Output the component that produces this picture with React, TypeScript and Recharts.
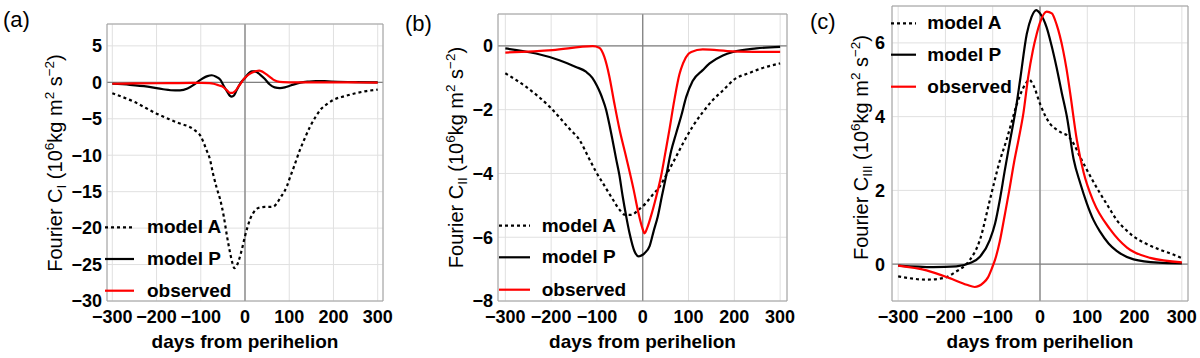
import React from "react";
import { LineChart, Line, XAxis, YAxis, CartesianGrid, ReferenceLine } from "recharts";

const FONT = '"Liberation Sans", Arial, Helvetica, sans-serif';

// ---------- shared ----------
const xTickValues = [-300, -200, -100, 0, 100, 200, 300];
const seriesNames = ["model A", "model P", "observed"];

// ---------- panel (a): Fourier C_I ----------
const aYTicks = [-30, -25, -20, -15, -10, -5, 0, 5];
const aModelADays = [-300, -250, -200, -154, -113, -100, -94, -87, -80, -72, -64, -56, -48, -41, -34, -28, -24, -20, -15, -10, -5, 0, 6, 12, 20, 28, 36, 45, 55, 64, 72, 80, 88, 95, 102, 110, 124, 135, 147, 160, 170, 185, 200, 225, 250, 275, 300];
const aModelAVals = [-1.5, -2.7, -4.3, -5.5, -6.6, -7.4, -8.2, -9.3, -10.4, -12.6, -14.5, -16.1, -18.4, -21.0, -23.3, -24.9, -25.5, -25.3, -24.6, -23.6, -22.4, -21.1, -19.8, -18.7, -17.8, -17.3, -17.15, -17.1, -17.1, -17.05, -16.6, -15.8, -15.1, -14.2, -13.0, -11.7, -9.3, -7.7, -6.1, -4.7, -3.8, -3.0, -2.4, -1.9, -1.5, -1.2, -1.0];
const aModelPDays = [-300, -260, -220, -185, -158, -147, -130, -115, -105, -95, -85, -75, -65, -56, -48, -40, -34, -30, -25, -19, -10, 0, 8, 15, 22, 28, 34, 45, 56, 67, 79, 90, 100, 109, 125, 143, 160, 180, 210, 250, 300];
const aModelPVals = [-0.2, -0.35, -0.6, -0.95, -1.1, -1.1, -0.85, -0.3, 0.15, 0.55, 0.85, 0.97, 0.75, 0.37, -0.5, -1.3, -1.85, -1.95, -1.8, -1.1, -0.1, 0.6, 1.2, 1.5, 1.5, 1.35, 1.06, 0.45, -0.3, -0.7, -0.8, -0.7, -0.5, -0.32, -0.05, 0.1, 0.18, 0.15, 0.08, 0.02, 0];
const aObsDays = [-300, -250, -200, -150, -100, -80, -71, -60, -49, -40, -34, -28, -22, -15, -8, -4, 5, 15, 26, 32, 38, 46, 56, 64, 72, 86, 100, 150, 200, 250, 300];
const aObsVals = [-0.2, -0.15, -0.13, -0.1, -0.08, -0.12, -0.2, -0.4, -0.65, -1.15, -1.46, -1.45, -1.2, -0.6, 0.0, 0.37, 0.9, 1.3, 1.55, 1.6, 1.5, 1.2, 0.75, 0.37, 0.15, 0.02, 0, 0, 0, -0.02, -0.05];

// ---------- panel (b): Fourier C_II ----------
const bYTicks = [-8, -6, -4, -2, 0];
const bModelADays = [-300, -255, -204, -160, -138, -120, -102, -85, -66, -50, -40, -25, -10, 7, 20, 37, 55, 73, 90, 109, 130, 153, 175, 200, 233, 260, 300];
const bModelAVals = [-0.86, -1.28, -1.9, -2.6, -2.95, -3.45, -3.95, -4.35, -4.8, -5.15, -5.29, -5.3, -5.15, -4.93, -4.7, -4.41, -3.95, -3.47, -3.0, -2.53, -2.1, -1.7, -1.4, -1.05, -0.85, -0.7, -0.55];
const bModelPDays = [-300, -233, -182, -146, -124, -110, -100, -92, -88, -80, -73, -66, -58, -51, -44, -36, -29, -18, -9, 0, 4, 15, 24, 33, 42, 51, 62, 73, 84, 95, 109, 131, 146, 175, 197, 248, 300];
const bModelPVals = [-0.08, -0.24, -0.45, -0.66, -0.81, -1.0, -1.25, -1.5, -1.65, -2.0, -2.45, -2.95, -3.55, -4.05, -4.7, -5.35, -5.86, -6.44, -6.6, -6.55, -6.5, -6.28, -5.8, -5.34, -4.7, -4.09, -3.3, -2.74, -2.2, -1.6, -1.1, -0.76, -0.55, -0.3, -0.19, -0.08, -0.03];
const bObsDays = [-300, -197, -109, -95, -84, -73, -62, -51, -36, -20, -10, 0, 4, 10, 18, 30, 40, 50, 58, 69, 80, 88, 100, 106, 131, 197, 300];
const bObsVals = [-0.21, -0.13, -0.01, -0.06, -0.34, -0.95, -1.8, -2.6, -3.5, -4.5, -5.2, -5.75, -5.88, -5.7, -5.34, -4.7, -4.09, -3.3, -2.65, -1.7, -0.9, -0.55, -0.25, -0.19, -0.11, -0.17, -0.19];

// ---------- panel (c): Fourier C_III ----------
const cYTicks = [0, 2, 4, 6];
const cModelADays = [-300, -240, -205, -177, -160, -148, -127, -106, -85, -70, -60, -50, -40, -30, -23, -14, 0, 10, 21, 35, 49, 57, 71, 85, 92, 110, 127, 145, 162, 180, 198, 225, 254, 280, 300];
const cModelAVals = [-0.33, -0.42, -0.38, -0.2, -0.05, 0.12, 0.66, 1.74, 2.8, 3.4, 3.85, 4.3, 4.65, 4.9, 5.0, 4.85, 4.35, 4.05, 3.81, 3.65, 3.54, 3.5, 3.27, 2.9, 2.73, 2.3, 1.92, 1.55, 1.2, 0.95, 0.75, 0.55, 0.39, 0.27, 0.16];
const cModelPDays = [-300, -226, -177, -148, -127, -106, -95, -85, -75, -64, -50, -42, -28, -18, -8, 0, 14, 24, 35, 46, 57, 71, 85, 99, 113, 127, 145, 162, 198, 250, 300];
const cModelPVals = [-0.04, -0.08, -0.06, 0.03, 0.2, 0.66, 1.1, 1.74, 2.5, 3.3, 4.3, 5.0, 6.24, 6.7, 6.89, 6.8, 6.42, 5.95, 5.34, 4.65, 3.99, 2.85, 2.2, 1.65, 1.2, 0.88, 0.56, 0.36, 0.13, 0.04, 0.02];
const cObsDays = [-300, -240, -191, -155, -138, -120, -110, -102, -95, -85, -75, -65, -55, -45, -35, -25, -15, -7, 0, 14, 25, 35, 49, 56, 64, 78, 92, 113, 148, 184, 233, 300];
const cObsVals = [-0.04, -0.17, -0.38, -0.56, -0.62, -0.51, -0.36, -0.12, 0.12, 0.62, 1.3, 2.0, 2.75, 3.4, 4.1, 5.07, 5.8, 6.24, 6.55, 6.85, 6.8, 6.5, 5.79, 5.3, 4.62, 3.36, 2.5, 1.7, 0.95, 0.45, 0.17, 0.05];

// ---------- helpers ----------
type Pt = { x: number; y: number };
const toPoints = (days: number[], vals: number[]): Pt[] => days.map((x, i) => ({ x, y: vals[i] }));
const range = (a: number, b: number, s: number) => {
  const r: number[] = [];
  for (let v = a; v <= b + 1e-9; v += s) r.push(Math.round(v * 1000) / 1000);
  return r;
};
const fmt = (v: number) => String(v).replace("-", "\u2212");

const seriesStyles = [
  { color: "#000000", dash: "3 3" },
  { color: "#000000", dash: undefined as string | undefined },
  { color: "#ff0000", dash: undefined as string | undefined },
];

type PanelCfg = {
  left: number;
  width: number;
  plot: { l: number; r: number; t: number; b: number };
  xDomain: [number, number];
  yDomain: [number, number];
  yTicks: number[];
  yMinorStep: number;
  series: Pt[][];
  yTickMargin: number;
};

const panels: PanelCfg[] = [
  {
    left: 0, width: 400, plot: { l: 107, r: 383, t: 24, b: 301 },
    xDomain: [-312, 312], yDomain: [-30, 8], yTicks: aYTicks, yMinorStep: 1, yTickMargin: 5,
    series: [toPoints(aModelADays, aModelAVals), toPoints(aModelPDays, aModelPVals), toPoints(aObsDays, aObsVals)],
  },
  {
    left: 390, width: 410, plot: { l: 498, r: 787, t: 14, b: 301 },
    xDomain: [-316, 315], yDomain: [-8, 1], yTicks: bYTicks, yMinorStep: 0.5, yTickMargin: 5,
    series: [toPoints(bModelADays, bModelAVals), toPoints(bModelPDays, bModelPVals), toPoints(bObsDays, bObsVals)],
  },
  {
    left: 800, width: 400, plot: { l: 892, r: 1188, t: 6, b: 301 },
    xDomain: [-313, 313], yDomain: [-1, 7], yTicks: cYTicks, yMinorStep: 0.5, yTickMargin: 7,
    series: [toPoints(cModelADays, cModelAVals), toPoints(cModelPDays, cModelPVals), toPoints(cObsDays, cObsVals)],
  },
];

const FRAME = "#a0a0a0";
const tickStyle = { fill: "#000", fontSize: 18, fontWeight: 700, fontFamily: FONT };
const noTick = () => <g />;

function Panel({ cfg }: { cfg: PanelCfg }) {
  const { left, width, plot, xDomain, yDomain } = cfg;
  const xMinor = range(-300, 300, 20);
  const yMinor = range(yDomain[0], yDomain[1], cfg.yMinorStep);
  return (
    <div style={{ position: "absolute", left, top: 0, width, height: 358 }}>
      <LineChart
        width={width}
        height={358}
        margin={{ top: plot.t, right: left + width - plot.r, bottom: 0, left: 0 }}
      >
        <CartesianGrid stroke="#e0e0e0" strokeWidth={1} />
        <XAxis
          xAxisId={0}
          type="number"
          dataKey="x"
          domain={xDomain}
          ticks={xTickValues}
          interval={0}
          height={358 - plot.b}
          tickLine={false}
          axisLine={false}
          tickSize={0}
          tickMargin={9}
          tick={tickStyle}
          tickFormatter={fmt}
        />
        <YAxis
          yAxisId={0}
          type="number"
          domain={yDomain}
          ticks={cfg.yTicks}
          interval={0}
          width={plot.l - left}
          tickLine={false}
          axisLine={false}
          tickSize={0}
          tickMargin={cfg.yTickMargin}
          tick={tickStyle}
          tickFormatter={fmt}
        />
        {/* frame with inward ticks */}
        <XAxis xAxisId="fb" type="number" domain={xDomain} ticks={xMinor} interval={0} orientation="bottom" mirror height={1} tick={noTick} tickSize={3} tickLine={{ stroke: FRAME }} axisLine={{ stroke: FRAME }} />
        <XAxis xAxisId="fbM" type="number" domain={xDomain} ticks={xTickValues} interval={0} orientation="bottom" mirror height={1} tick={noTick} tickSize={6} tickLine={{ stroke: FRAME }} axisLine={false} />
        <XAxis xAxisId="ft" type="number" domain={xDomain} ticks={xMinor} interval={0} orientation="top" mirror height={1} tick={noTick} tickSize={3} tickLine={{ stroke: FRAME }} axisLine={{ stroke: FRAME }} />
        <XAxis xAxisId="ftM" type="number" domain={xDomain} ticks={xTickValues} interval={0} orientation="top" mirror height={1} tick={noTick} tickSize={6} tickLine={{ stroke: FRAME }} axisLine={false} />
        <YAxis yAxisId="fl" type="number" domain={yDomain} ticks={yMinor} interval={0} orientation="left" mirror width={1} tick={noTick} tickSize={3} tickLine={{ stroke: FRAME }} axisLine={{ stroke: FRAME }} />
        <YAxis yAxisId="flM" type="number" domain={yDomain} ticks={cfg.yTicks} interval={0} orientation="left" mirror width={1} tick={noTick} tickSize={6} tickLine={{ stroke: FRAME }} axisLine={false} />
        <YAxis yAxisId="fr" type="number" domain={yDomain} ticks={yMinor} interval={0} orientation="right" mirror width={1} tick={noTick} tickSize={3} tickLine={{ stroke: FRAME }} axisLine={{ stroke: FRAME }} />
        <YAxis yAxisId="frM" type="number" domain={yDomain} ticks={cfg.yTicks} interval={0} orientation="right" mirror width={1} tick={noTick} tickSize={6} tickLine={{ stroke: FRAME }} axisLine={false} />
        <ReferenceLine xAxisId={0} yAxisId={0} x={0} stroke="#808080" strokeWidth={1.3} />
        <ReferenceLine xAxisId={0} yAxisId={0} y={0} stroke="#808080" strokeWidth={1.3} />
        {cfg.series.map((pts, i) => (
          <Line
            key={seriesNames[i]}
            name={seriesNames[i]}
            xAxisId={0}
            yAxisId={0}
            data={pts}
            dataKey="y"
            type="monotone"
            stroke={seriesStyles[i].color}
            strokeWidth={2.2}
            strokeDasharray={seriesStyles[i].dash}
            dot={false}
            activeDot={false}
            isAnimationActive={false}
          />
        ))}
      </LineChart>
    </div>
  );
}

function YTitle({ x, y, roman }: { x: number; y: number; roman: string }) {
  const small = 13.5;
  return (
    <text
      x={x}
      y={y}
      transform={`rotate(-90 ${x} ${y})`}
      textAnchor="middle"
      fontSize={20}
      fontFamily={FONT}
      fill="#000"
    >
      {"Fourier C"}
      <tspan fontSize={small} dy={4}>{roman}</tspan>
      <tspan dy={-4}>{" (10"}</tspan>
      <tspan fontSize={small} dy={-8}>6</tspan>
      <tspan dy={8}>{"kg m"}</tspan>
      <tspan fontSize={small} dy={-8}>2</tspan>
      <tspan dy={8}>{" s"}</tspan>
      <tspan fontSize={small} dy={-8}>{"\u22122"}</tspan>
      <tspan dy={8}>{")"}</tspan>
    </text>
  );
}

const titles = [
  { letter: "(a)", lx: 3, ly: 27, ytx: 61.5, yty: 163, roman: "I", xcx: 245, leg: { x1: 105, x2: 134, tx: 147, base: [233.3, 265, 296.7] } },
  { letter: "(b)", lx: 405, ly: 30.5, ytx: 463, yty: 157.5, roman: "II", xcx: 642.5, leg: { x1: 499, x2: 530, tx: 541.7, base: [231.7, 263.3, 295.7] } },
  { letter: "(c)", lx: 810, ly: 28.5, ytx: 868, yty: 147.5, roman: "III", xcx: 1040, leg: { x1: 891, x2: 916, tx: 927.3, base: [29.3, 60.7, 92.7] } },
];

export default function App() {
  return (
    <div style={{ position: "absolute", left: 0, top: 0, width: 1200, height: 358, background: "#fff", overflow: "hidden" }}>
      {panels.map((p, i) => (
        <Panel key={i} cfg={p} />
      ))}
      <svg width={1200} height={358} style={{ position: "absolute", left: 0, top: 0, pointerEvents: "none" }}>
        {titles.map((t, i) => (
          <g key={i}>
            <text x={t.lx} y={t.ly} fontSize={22} fontFamily={FONT} fill="#000">{t.letter}</text>
            <YTitle x={t.ytx} y={t.yty} roman={t.roman} />
            <text x={t.xcx} y={348} textAnchor="middle" fontSize={19} fontWeight={700} fontFamily={FONT} fill="#000">
              days from perihelion
            </text>
            {seriesNames.map((n, j) => (
              <g key={n}>
                <line
                  x1={t.leg.x1}
                  x2={t.leg.x2}
                  y1={t.leg.base[j] - 6}
                  y2={t.leg.base[j] - 6}
                  stroke={seriesStyles[j].color}
                  strokeWidth={2.2}
                  strokeDasharray={seriesStyles[j].dash}
                />
                <text x={t.leg.tx} y={t.leg.base[j]} fontSize={19} fontWeight={700} fontFamily={FONT} fill="#000">
                  {n}
                </text>
              </g>
            ))}
          </g>
        ))}
      </svg>
    </div>
  );
}
